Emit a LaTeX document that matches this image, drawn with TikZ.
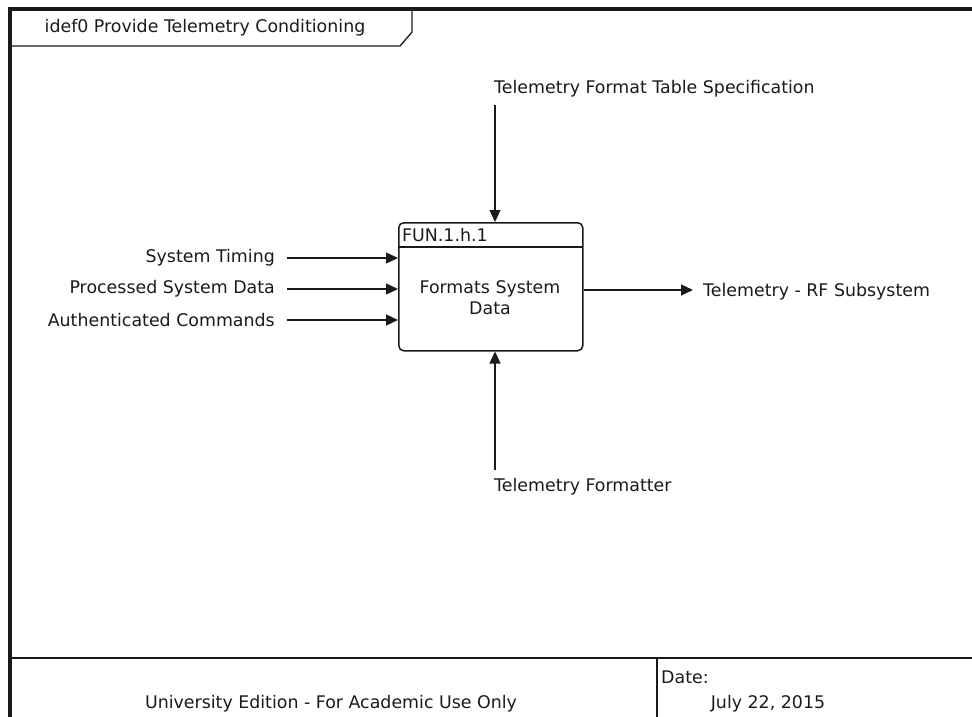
\documentclass[tikz,border=0pt]{standalone}
\usepackage{fontspec}
\setmainfont{DejaVu Sans}
\usepackage{xcolor}
\definecolor{cInk}{HTML}{1A1A1A}
\usepackage{tikz}
\usetikzlibrary{positioning,arrows.meta}
\tikzset{
  fun-box/.style={draw=cInk,line width=1.5pt,rounded corners=5pt,
    minimum width=184pt,minimum height=128pt,inner sep=0pt},
  fun-label/.style={font=\fontsize{17.4}{21}\selectfont,text=cInk,inner sep=0pt},
  flow/.style={-{Triangle[length=12pt,width=11pt]},line width=1.2pt,draw=cInk},
  frame-line/.style={draw=cInk,line width=3.2pt},
}

\begin{document}
\begin{tikzpicture}[x=1pt,y=-1pt]
  \useasboundingbox (0,0) rectangle (972,717);
  \clip (0,0) rectangle (972,717);
  % frame and title tab
  \draw[frame-line] (10,9) rectangle (990,740);
  \draw[line width=1.3pt,draw=cInk] (10,46) -- (400,46) -- (412,32) -- (412,9);
  \node[fun-label] (title) at (205,28) {idef0 Provide Telemetry Conditioning};
  % footer
  \draw[line width=1.6pt,draw=cInk] (10,658) -- (990,658);
  \draw[line width=2.2pt,draw=cInk] (657,658) -- (657,740);
  \node[fun-label] (edition) at (331,704) {University Edition - For Academic Use Only};
  \node[fun-label,anchor=west] (datelbl) at (661,677) {Date:};
  \node[fun-label] (date) at (768,704) {July 22, 2015};
  % function box
  \node[fun-box,anchor=north west] (fun) at (398,222) {};
  \draw[draw=cInk,line width=1.3pt] (398,247) -- (582,247);
  \node[fun-label,anchor=west] (funid) at (402,235) {FUN.1.h.1};
  \node[fun-label,align=center] (funname) at (490,298) {Formats System\\Data};
  % control and mechanism
  \node[fun-label,anchor=west] (ctrl) at (494,89) {Telemetry Format Table Specification};
  \node[fun-label,anchor=west] (mech) at (494,487) {Telemetry Formatter};
  \coordinate (ctrl-end) at (495,105);
  \coordinate (mech-end) at (495,470);
  \draw[flow] (ctrl-end) -- (fun.north -| ctrl-end);
  \draw[flow] (mech-end) -- (fun.south -| mech-end);
  % inputs
  \node[fun-label,anchor=east] (in1) at (275,258) {System Timing};
  \node[fun-label,anchor=east] (in2) at (275,289) {Processed System Data};
  \node[fun-label,anchor=east] (in3) at (275,320) {Authenticated Commands};
  \foreach \n in {in1,in2,in3}
    \draw[flow] ([xshift=12pt]\n.east) -- (fun.west |- \n.east);
  % output
  \node[fun-label,anchor=west] (out) at (703,292) {Telemetry - RF Subsystem};
  \coordinate (out-start) at (fun.east |- 0,290);
  \draw[flow] (out-start) -- ([xshift=-10pt]out.west |- out-start);
\end{tikzpicture}
\end{document}
